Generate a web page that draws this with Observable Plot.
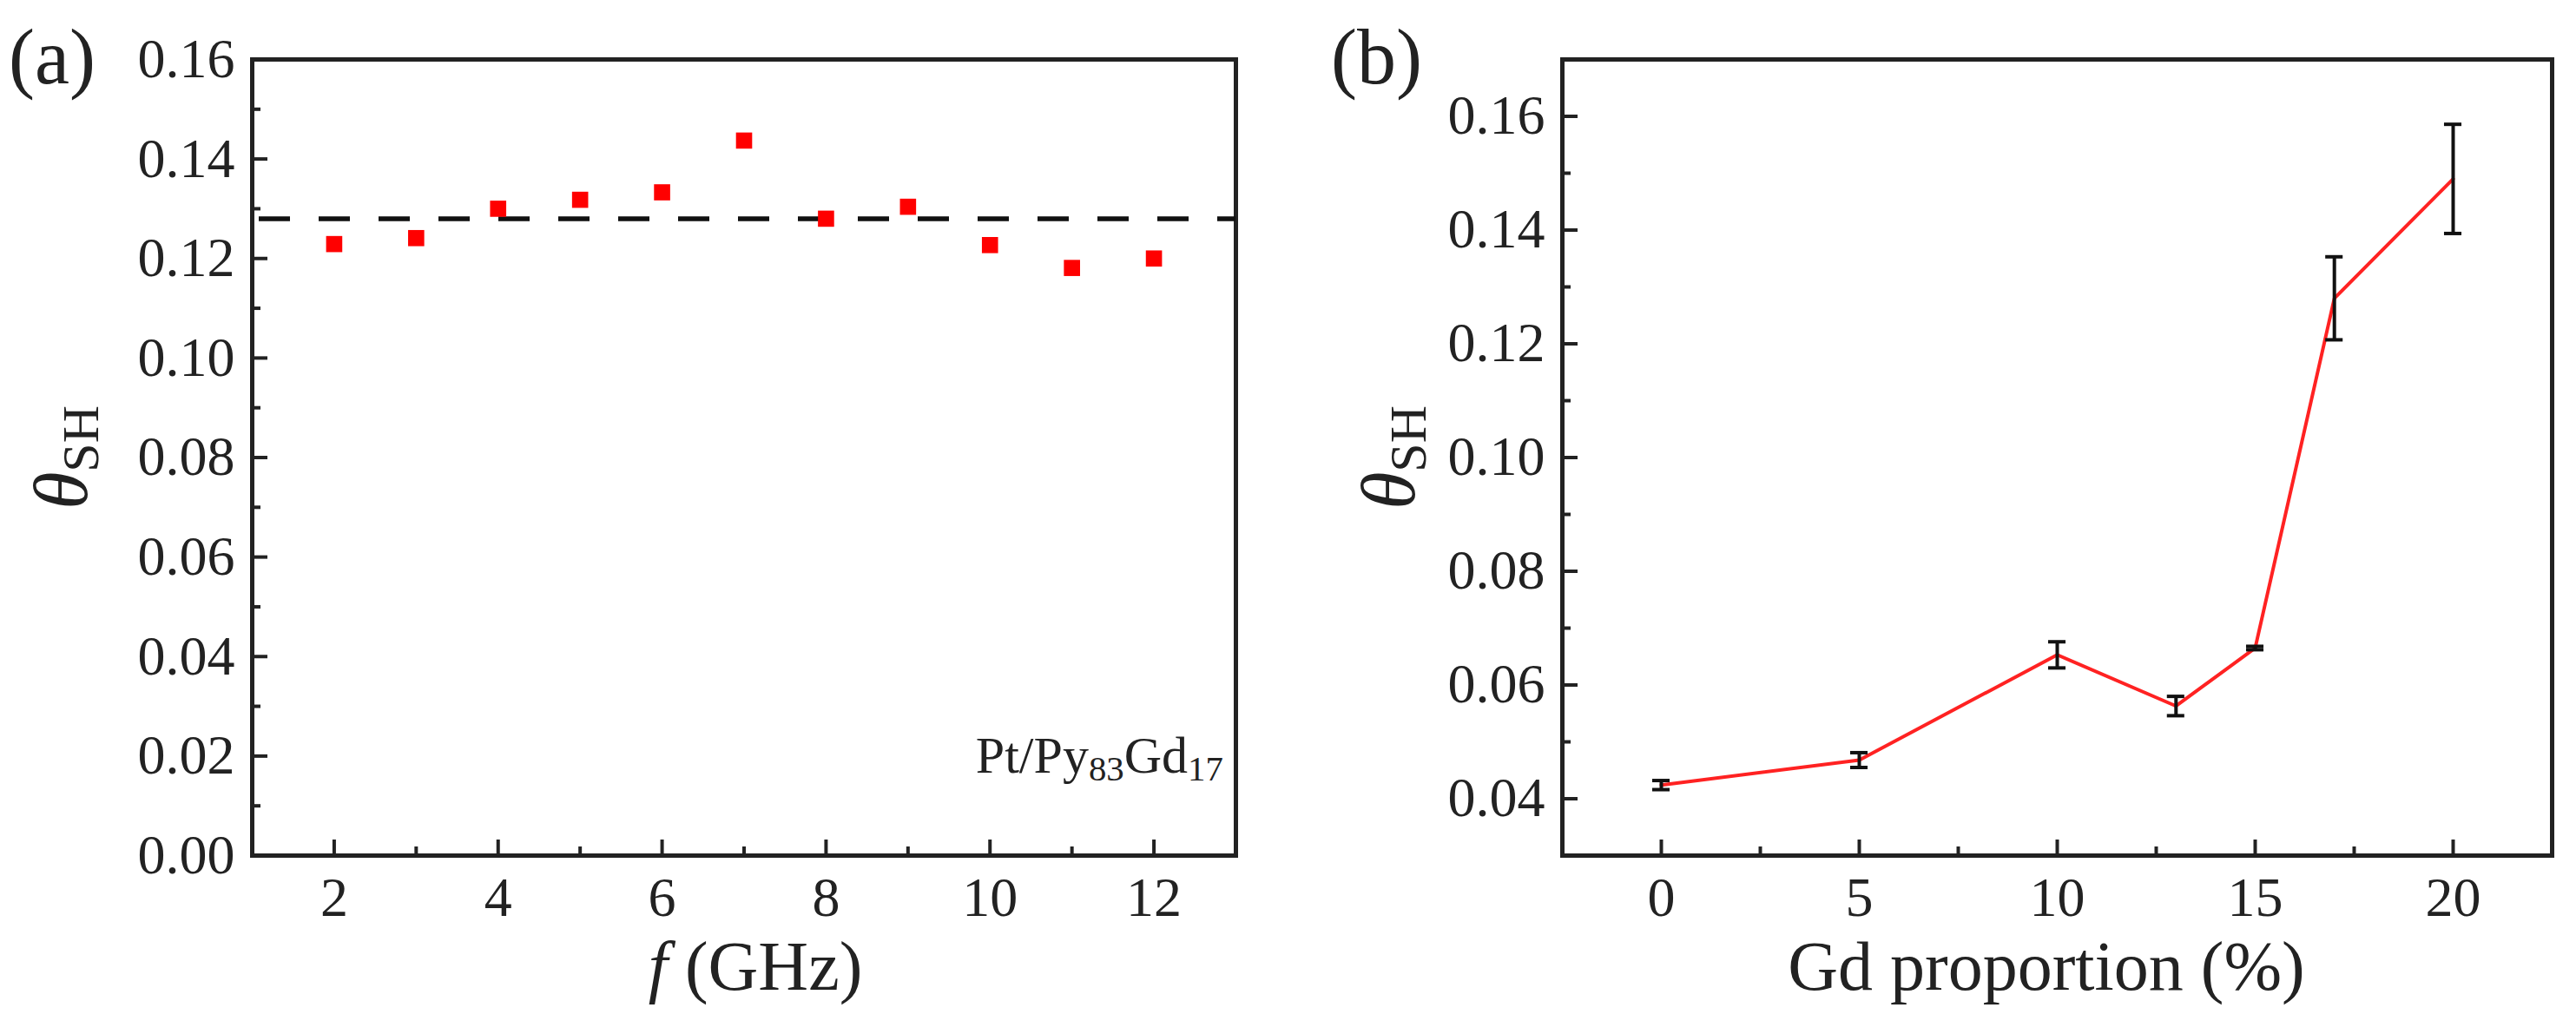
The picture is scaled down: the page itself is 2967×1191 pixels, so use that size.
<!DOCTYPE html>
<html><head><meta charset="utf-8">
<script src="https://cdn.jsdelivr.net/npm/d3@7"></script>
<script src="https://cdn.jsdelivr.net/npm/@observablehq/plot@0.6"></script>
<style>
body{margin:0;background:#fff;width:2967px;height:1191px;position:relative;overflow:hidden;font-family:'Liberation Serif','DejaVu Serif',serif}
.p{position:absolute;top:0}
svg text{font-family:'Liberation Serif','DejaVu Serif',serif !important}
</style></head><body>
<div id="a" class="p" style="left:0"></div>
<div id="b" class="p" style="left:1483px"></div>
<script>
// Panel (a)
const freq = [2,3,4,5,6,7,8,9,10,11,12];
const thetaA = [0.1229,0.1241,0.1300,0.1318,0.1333,0.1437,0.1280,0.1304,0.1227,0.1181,0.1200];
const meanA = 0.128;
// Panel (b)
const gd = [0,5,10,13,15,17,20];
const thetaB = [0.0424,0.0468,0.0653,0.0563,0.0665,0.1280,0.1490];
const errB = [0.0008,0.0013,0.0023,0.0017,0.0003,0.0073,0.0096];
const xTicksA = [2,4,6,8,10,12], xMinorA = [1,3,5,7,9,11,13];
const yTicksA = [0,0.02,0.04,0.06,0.08,0.10,0.12,0.14,0.16];
const yMinorA = [0.01,0.03,0.05,0.07,0.09,0.11,0.13,0.15];
const xTicksB = [0,5,10,15,20], xMinorB = [-2.5,2.5,7.5,12.5,17.5,22.5];
const yTicksB = [0.04,0.06,0.08,0.10,0.12,0.14,0.16];
const yMinorB = [0.03,0.05,0.07,0.09,0.11,0.13,0.15,0.17];

const font = "'Liberation Serif', 'DejaVu Serif', serif";
const fmt2 = d => d.toFixed(2);
const dataA = freq.map((f,i)=>({f, t: thetaA[i]}));
const dataB = gd.map((g,i)=>({g, t: thetaB[i], e: errB[i]}));

function axes(xt, xm, yt, ym, yfmt){
  return [
    Plot.axisX(xt, {tickSize:0, tickPadding:24, fontSize:64, label:null}),
    Plot.axisX(xt, {tickSize:-18, text:null, strokeWidth:4, label:null}),
    Plot.axisX(xm, {tickSize:-10, text:null, strokeWidth:4, label:null}),
    Plot.axisY(yt, {tickSize:0, tickPadding:20, fontSize:64, tickFormat:yfmt, label:null}),
    Plot.axisY(yt, {tickSize:-18, text:null, strokeWidth:4, label:null}),
    Plot.axisY(ym, {tickSize:-10, text:null, strokeWidth:4, label:null}),
    Plot.frame({stroke:"#222", strokeWidth:5})
  ];
}

const pa = Plot.plot({
  width:1483, height:1191, marginLeft:290, marginRight:60, marginTop:68, marginBottom:206,
  style:{fontFamily:font, color:"#222", background:"white"},
  x:{domain:[1,13]}, y:{domain:[0,0.16]},
  marks:[
    ...axes(xTicksA, xMinorA, yTicksA, yMinorA, fmt2),
    Plot.ruleY([meanA], {stroke:"#111", strokeWidth:5.5, strokeDasharray:"36,33", strokeDashoffset:-8}),
    Plot.dot(dataA, {x:"f", y:"t", symbol:"square", r:10.5, fill:"#f00", stroke:"none"})
  ]
});
document.getElementById("a").append(pa);

const pb = Plot.plot({
  width:1484, height:1191, marginLeft:316, marginRight:28, marginTop:68, marginBottom:206,
  style:{fontFamily:font, color:"#222", background:"white"},
  x:{domain:[-2.5,22.5]}, y:{domain:[0.03,0.17]},
  marks:[
    ...axes(xTicksB, xMinorB, yTicksB, yMinorB, fmt2),
    Plot.line(dataB, {x:"g", y:"t", stroke:"#f22", strokeWidth:4}),
    Plot.ruleX(dataB, {x:"g", y1:d=>d.t-d.e, y2:d=>d.t+d.e, stroke:"#111", strokeWidth:4}),
    Plot.ruleY(dataB, {y:d=>d.t-d.e, x1:d=>d.g-0.22, x2:d=>d.g+0.22, stroke:"#111", strokeWidth:4}),
    Plot.ruleY(dataB, {y:d=>d.t+d.e, x1:d=>d.g-0.22, x2:d=>d.g+0.22, stroke:"#111", strokeWidth:4})
  ]
});
document.getElementById("b").append(pb);

function addText(svg, x, y, parts, size, opts={}){
  const t = d3.select(svg).append("text").attr("x",x).attr("y",y)
    .attr("font-family",font).attr("font-size",size).attr("fill","#222")
    .attr("text-anchor", opts.anchor||"middle");
  if(opts.rotate) t.attr("transform",`rotate(-90,${x},${y})`);
  for(const p of parts){
    const s = t.append("tspan").text(p.t);
    if(p.italic) s.attr("font-style","italic");
    if(p.sub) s.attr("font-size", size*0.68).attr("baseline-shift","-22%");
  }
  return t;
}
// panel labels
addText(pa, 10, 96, [{t:"(a)"}], 90, {anchor:"start"});
addText(pb, 50, 96, [{t:"(b)"}], 90, {anchor:"start"});
// axis titles
addText(pa, 870, 1140, [{t:"f",italic:true},{t:" (GHz)"}], 80);
addText(pb, 874, 1140, [{t:"Gd proportion (%)"}], 80);
addText(pa, 100, 527, [{t:"θ",italic:true},{t:"SH",sub:true}], 88, {rotate:true});
addText(pb, 146, 527, [{t:"θ",italic:true},{t:"SH",sub:true}], 88, {rotate:true});
// annotation
const sx = pa.scale("x"), sy = pa.scale("y");
addText(pa, sx.apply(12.85), sy.apply(0.0166),
  [{t:"Pt/Py"},{t:"83",sub:true},{t:"Gd"},{t:"17",sub:true}], 60, {anchor:"end"});
</script></body></html>
